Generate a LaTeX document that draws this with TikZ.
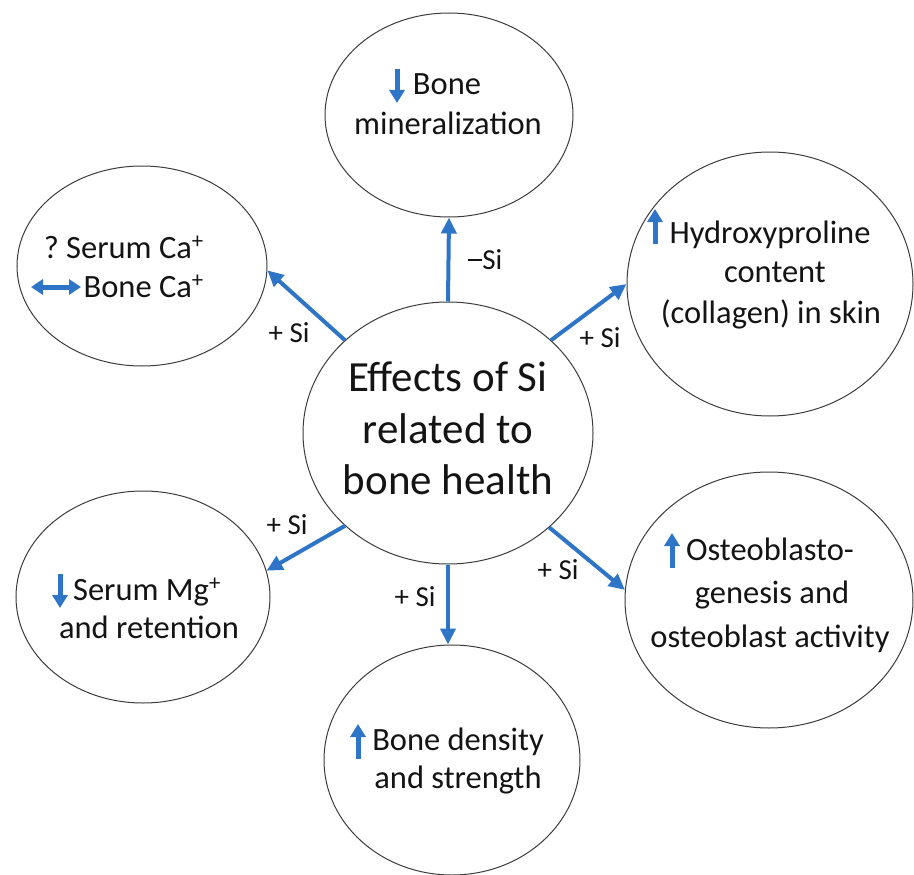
\documentclass[tikz,border=0pt]{standalone}
\usepackage{fontspec}
\setmainfont{Carlito}
\usetikzlibrary{shapes.geometric,arrows.meta}
\definecolor{arrowblue}{RGB}{46,117,200}
\definecolor{edgegray}{RGB}{60,60,60}
\definecolor{txt}{RGB}{20,20,20}
\frenchspacing
\begin{document}
\begin{tikzpicture}[x=1pt,y=-1pt,
  bubble/.style={ellipse,draw=edgegray,line width=1pt,inner sep=0pt,fill=white},
  link/.style={draw=arrowblue,line width=4pt,-{Triangle[length=16pt,width=15pt]}},
  trend/.style={draw=arrowblue,line width=5pt,-{Triangle[length=13pt,width=15pt]}},
  both/.style={draw=arrowblue,line width=5pt,{Triangle[length=12pt,width=15pt]}-{Triangle[length=12pt,width=15pt]}},
  txtline/.style={font=\fontsize{32.5}{39}\selectfont,text=txt,anchor=base,inner sep=0pt},
  bigline/.style={font=\fontsize{43}{52}\selectfont,text=txt,anchor=base,inner sep=0pt},
  silbl/.style={font=\fontsize{29}{35}\selectfont,text=txt,anchor=base,inner sep=0pt}]
\path[use as bounding box, fill=white] (0,0) rectangle (914,875);

% ellipses
\node[bubble,minimum width=290pt,minimum height=262pt] (c) at (448,433) {};
\node[bubble,minimum width=248pt,minimum height=204pt] (top) at (449,115) {};
\node[bubble,minimum width=250pt,minimum height=200pt] (ul) at (142,266) {};
\node[bubble,minimum width=286pt,minimum height=264pt] (ur) at (770,284) {};
\node[bubble,minimum width=254pt,minimum height=212pt] (ll) at (143,597) {};
\node[bubble,minimum width=256pt,minimum height=230pt] (bot) at (452,760) {};
\node[bubble,minimum width=288pt,minimum height=256pt] (lr) at (769,600) {};

% connectors
\draw[link] (c.90) -- (top.south);
\draw[link] (c.138) -- (ul.-2);
\draw[link] (c.42.7) -- (ur.west);
\draw[link] (c.222) -- (ll.12);
\draw[link] (c.south) -- (c.south |- bot.north);
\draw[link] (c.317.6) -- (lr.176);

% connector labels
\node[silbl] (l1) at (485,269.5) {\rule[0.28em]{0.5em}{0.07em}Si};
\node[silbl] (l2) at (289,342.5) {+ Si};
\node[silbl] (l3) at (600,347.5) {+ Si};
\node[silbl] (l4) at (287,534.5) {+ Si};
\node[silbl] (l5) at (415,606.5) {+ Si};
\node[silbl] (l6) at (558,579.5) {+ Si};

% centre text
\node[bigline] (c1) at (448,391) {Effects of Si};
\node[bigline] (c2) at (448,443) {related to};
\node[bigline] (c3) at (448,494) {bone health};

% top
\draw[trend] (397,69) -- (397,103);
\node[txtline] (t1) at (447,95) {Bone};
\node[txtline] (t2) at (448,135) {mineralization};

% upper left
\draw[both] (31,287) -- (81,287);
\node[txtline,anchor=base east] (u1) at (204,258) {? Serum Ca\textsuperscript{+}};
\node[txtline,anchor=base east] (u2) at (204,297) {Bone Ca\textsuperscript{+}};

% upper right
\draw[trend] (655,244) -- (655,209);
\node[txtline] (r1) at (770,243) {Hydroxyproline};
\node[txtline] (r2) at (775,282) {content};
\node[txtline] (r3) at (771,323) {(collagen) in skin};

% lower left
\draw[trend] (60,574) -- (60,608);
\node[txtline] (m1) at (147,600) {Serum Mg\textsuperscript{+}};
\node[txtline] (m2) at (149,638) {and retention};

% bottom
\draw[trend] (358,759) -- (358,724);
\node[txtline] (b1) at (458,750) {Bone density};
\node[txtline] (b2) at (458,788) {and strength};

% lower right
\draw[trend] (672,568) -- (672,533);
\node[txtline] (o1) at (770,560) {Osteoblasto-};
\node[txtline] (o2) at (772,603) {genesis and};
\node[txtline] (o3) at (770,647) {osteoblast activity};
\end{tikzpicture}
\end{document}
